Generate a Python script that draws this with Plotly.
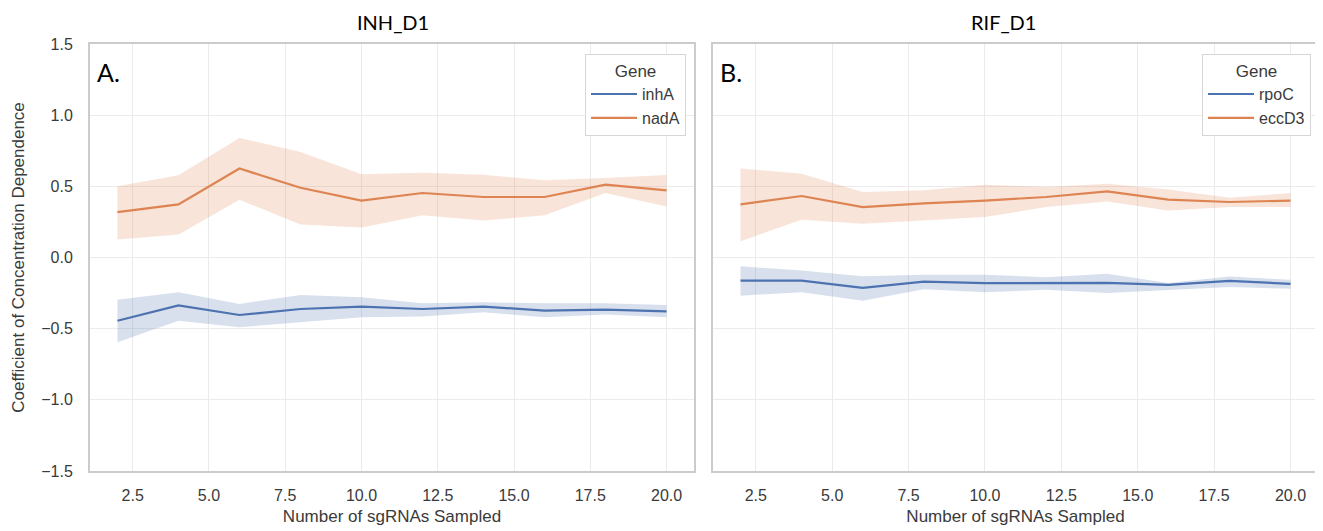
import plotly.graph_objects as go

x_vals = [2, 4, 6, 8, 10, 12, 14, 16, 18, 20]

# INH_D1 panel
inhA_mean = [-0.444, -0.336, -0.404, -0.362, -0.345, -0.362, -0.345, -0.373, -0.366, -0.378]
inhA_hi = [-0.296, -0.244, -0.326, -0.263, -0.280, -0.322, -0.315, -0.322, -0.322, -0.333]
inhA_lo = [-0.596, -0.444, -0.490, -0.455, -0.420, -0.415, -0.385, -0.420, -0.400, -0.420]

nadA_mean = [0.319, 0.373, 0.625, 0.490, 0.400, 0.453, 0.425, 0.425, 0.512, 0.472]
nadA_hi = [0.500, 0.577, 0.840, 0.742, 0.585, 0.596, 0.582, 0.542, 0.558, 0.580]
nadA_lo = [0.127, 0.162, 0.406, 0.232, 0.211, 0.296, 0.260, 0.296, 0.453, 0.359]

# RIF_D1 panel
rpoC_mean = [-0.162, -0.162, -0.214, -0.170, -0.180, -0.178, -0.178, -0.193, -0.164, -0.185]
rpoC_hi = [-0.061, -0.092, -0.131, -0.122, -0.122, -0.138, -0.115, -0.180, -0.134, -0.157]
rpoC_lo = [-0.268, -0.244, -0.303, -0.223, -0.244, -0.227, -0.249, -0.227, -0.208, -0.220]

eccD3_mean = [0.373, 0.432, 0.354, 0.380, 0.400, 0.425, 0.465, 0.406, 0.390, 0.400]
eccD3_hi = [0.625, 0.589, 0.460, 0.472, 0.512, 0.495, 0.519, 0.477, 0.420, 0.453]
eccD3_lo = [0.115, 0.265, 0.237, 0.260, 0.284, 0.354, 0.394, 0.331, 0.354, 0.354]

y_ticks = [-1.5, -1.0, -0.5, 0.0, 0.5, 1.0, 1.5]
y_tick_text = ["\u22121.5", "\u22121.0", "\u22120.5", "0.0", "0.5", "1.0", "1.5"]
x_ticks = [2.5, 5.0, 7.5, 10.0, 12.5, 15.0, 17.5, 20.0]
x_tick_text = ["2.5", "5.0", "7.5", "10.0", "12.5", "15.0", "17.5", "20.0"]

BLUE = "#4c72b0"
ORANGE = "#dd8452"
BLUE_F = "rgba(76,114,176,0.22)"
ORANGE_F = "rgba(221,132,82,0.22)"

# page has an 8px body margin: the figure is drawn from (8, 8)
OFF = 8
W, H = 1323 - OFF, 531 - OFF
FONT = "Liberation Sans, Arial, sans-serif"
TXT = "#3a3a3a"


def px(x):
    return (x - OFF) / W


def py(y):
    return 1 - (y - OFF) / H


fig = go.Figure()


def add_series(xa, ya, legend, name, mean, hi, lo, color, fillc):
    fig.add_trace(go.Scatter(x=x_vals, y=hi, mode="lines", line=dict(width=0, color=fillc),
                             showlegend=False, hoverinfo="skip", xaxis=xa, yaxis=ya))
    fig.add_trace(go.Scatter(x=x_vals, y=lo, mode="lines", line=dict(width=0, color=fillc),
                             fill="tonexty", fillcolor=fillc, showlegend=False,
                             hoverinfo="skip", xaxis=xa, yaxis=ya))
    fig.add_trace(go.Scatter(x=x_vals, y=mean, mode="lines", name=name,
                             line=dict(width=2.2, color=color), xaxis=xa, yaxis=ya,
                             legend=legend))


add_series("x", "y", "legend", "inhA", inhA_mean, inhA_hi, inhA_lo, BLUE, BLUE_F)
add_series("x", "y", "legend", "nadA", nadA_mean, nadA_hi, nadA_lo, ORANGE, ORANGE_F)
add_series("x2", "y2", "legend2", "rpoC", rpoC_mean, rpoC_hi, rpoC_lo, BLUE, BLUE_F)
add_series("x2", "y2", "legend2", "eccD3", eccD3_mean, eccD3_hi, eccD3_lo, ORANGE, ORANGE_F)

tick_font = dict(family=FONT, size=16, color=TXT)
common_x = dict(range=[1.1, 20.9], tickvals=x_ticks, ticktext=x_tick_text,
                showgrid=True, gridcolor="#ebebeb", gridwidth=1.3,
                showline=True, linecolor="#cccccc", linewidth=2, mirror=True,
                zeroline=False, ticks="", ticklabelstandoff=9, tickfont=tick_font,
                automargin=False)
common_y = dict(range=[-1.5, 1.5], tickvals=y_ticks, ticktext=y_tick_text,
                showgrid=True, gridcolor="#ebebeb", gridwidth=1.3,
                showline=True, linecolor="#cccccc", linewidth=2, mirror=True,
                zeroline=False, ticks="", tickfont=tick_font, automargin=False)

x1 = [px(90), px(694)]
x2 = [px(713), px(1318)]
yd = [py(471), py(44)]

legend_common = dict(xanchor="right", y=py(54), yanchor="top",
                     bgcolor="white", bordercolor="#d6d6d6", borderwidth=1,
                     traceorder="normal",
                     title=dict(text="Gene", side="top center",
                                font=dict(family=FONT, size=17, color=TXT)),
                     font=dict(family=FONT, size=16, color=TXT),
                     itemwidth=46)

fig.update_layout(
    template="none",
    width=W, height=H,
    margin=dict(l=0, r=0, t=0, b=0),
    paper_bgcolor="white", plot_bgcolor="white",
    xaxis=dict(domain=x1, anchor="y",
               title=dict(text="Number of sgRNAs Sampled", standoff=7,
                          font=dict(family=FONT, size=17, color=TXT)),
               **common_x),
    yaxis=dict(domain=yd, anchor="x", ticklabelstandoff=12,
               title=dict(text="Coefficient of Concentration Dependence", standoff=12,
                          font=dict(family=FONT, size=17, color=TXT)),
               **common_y),
    xaxis2=dict(domain=x2, anchor="y2",
                title=dict(text="Number of sgRNAs Sampled", standoff=7,
                           font=dict(family=FONT, size=17, color=TXT)),
                **common_x),
    yaxis2=dict(domain=yd, anchor="x2", showticklabels=False, **common_y),
    legend=dict(x=px(686), **legend_common),
    legend2=dict(x=px(1311), **legend_common),
    annotations=[
        dict(text="INH_D1", x=px(393), y=py(22), xref="paper", yref="paper",
             xanchor="center", yanchor="middle",
             showarrow=False, font=dict(family="Lato, sans-serif", size=20, color="black")),
        dict(text="RIF_D1", x=px(1003), y=py(22), xref="paper", yref="paper",
             xanchor="center", yanchor="middle",
             showarrow=False, font=dict(family="Lato, sans-serif", size=20, color="black")),
        dict(text="A.", x=px(95), y=py(72), xref="paper", yref="paper",
             xanchor="left", yanchor="middle",
             showarrow=False, font=dict(family="Lato, sans-serif", size=25, color="black")),
        dict(text="B.", x=px(718), y=py(72), xref="paper", yref="paper",
             xanchor="left", yanchor="middle",
             showarrow=False, font=dict(family="Lato, sans-serif", size=25, color="black")),
    ],
)

fig.write_html("out.html")
